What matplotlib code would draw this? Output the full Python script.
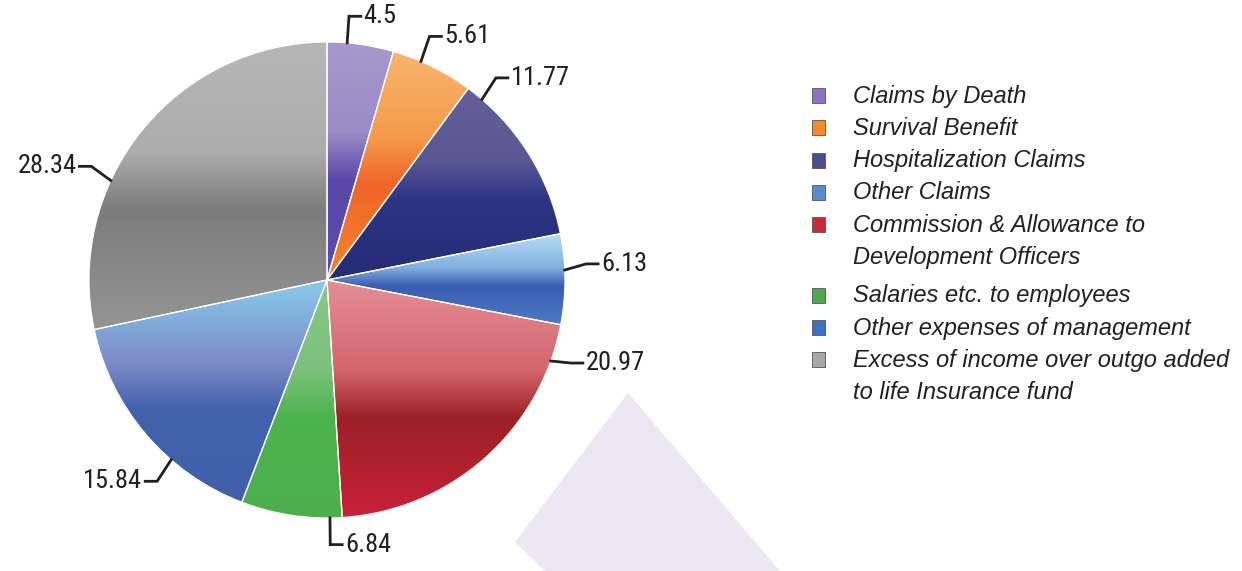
import numpy as np
import matplotlib.pyplot as plt
from matplotlib.colors import LinearSegmentedColormap
from matplotlib.patches import Polygon, Rectangle

# data
values = [4.5, 5.61, 11.77, 6.13, 20.97, 6.84, 15.84, 28.34]
value_text = ["4.5", "5.61", "11.77", "6.13", "20.97", "6.84", "15.84", "28.34"]
labels = [
    "Claims by Death",
    "Survival Benefit",
    "Hospitalization Claims",
    "Other Claims",
    "Commission & Allowance to\nDevelopment Officers",
    "Salaries etc. to employees",
    "Other expenses of management",
    "Excess of income over outgo added\nto life Insurance fund",
]

# glossy colours: top, upper, dark band, bottom
c_top = ["#a898cc", "#f8b56e", "#625f98", "#b8e0f0", "#e48e96", "#88c888", "#88ccec", "#b6b6b6"]
c_upper = ["#9a8cc6", "#f59a4a", "#5a5894", "#80aee0", "#d4656c", "#7cc07c", "#7c8ac6", "#adadad"]
c_dark = ["#5a48a8", "#f0642a", "#2c3484", "#3a5cb0", "#9a2026", "#4cb44c", "#4262ae", "#7c7c7c"]
c_bottom = ["#5c4cae", "#f5862a", "#262b74", "#4c7cc4", "#cb2039", "#4caf4c", "#4060ac", "#959595"]
legend_colors = ["#8c72c4", "#f58a2a", "#4a4f8a", "#5a8ad0", "#c8283a", "#4ea84e", "#3f6fc0", "#a8a8a8"]

# where along each wedge the leader line starts (fraction of the wedge)
leader_frac = [0.3, 0.35, 0.1, 0.4, 0.12, 0.12, 0.35, 0.36]

W, H = 1242, 571


def px(x, y):
    return x / W, 1 - y / H


fig = plt.figure(figsize=(W / 100, H / 100), dpi=100)

# pale watermark in the background
wm = Polygon([px(628, 393), px(515, 542), px(545, 571), px(780, 571)],
             closed=True, transform=fig.transFigure, facecolor="#ece8f3",
             edgecolor="none", zorder=0)
fig.patches.append(wm)

ax = fig.add_axes([89 / W, 53 / H, 476 / W, 476 / H])
ax.patch.set_alpha(0)
wedges, _ = ax.pie(values, startangle=90, counterclock=False, radius=1,
                   wedgeprops=dict(edgecolor="white", linewidth=0.9))

grad = np.linspace(0, 1, 256).reshape(-1, 1)
for i, w in enumerate(wedges):
    t = np.radians(np.linspace(w.theta1, w.theta2, 100))
    xs = np.concatenate([[0], np.cos(t)])
    ys = np.concatenate([[0], np.sin(t)])
    cmap = LinearSegmentedColormap.from_list(
        "g%d" % i, [(0, c_top[i]), (0.38, c_upper[i]), (0.58, c_dark[i]), (1, c_bottom[i])])
    im = ax.imshow(grad, cmap=cmap, extent=[xs.min(), xs.max(), ys.min(), ys.max()],
                   origin="upper", aspect="auto", interpolation="bilinear", zorder=1)
    im.set_clip_path(w)
    w.set_facecolor("none")
    w.set_zorder(2)

ax.set_xlim(-1, 1)
ax.set_ylim(-1, 1)
ax.axis("off")

# leader lines and value labels
num_font = dict(family=["Roboto Condensed", "Liberation Sans Narrow", "Liberation Sans"],
                fontsize=19, color="#231f20")
for i, w in enumerate(wedges):
    ang = np.radians(w.theta2 - leader_frac[i] * (w.theta2 - w.theta1))
    x0, y0 = np.cos(ang), np.sin(ang)
    up = 1 if y0 > -0.5 else -1
    x1 = x0 + 0.09 * x0
    y1 = y0 + 0.09 * y0 + up * 0.022
    side = 1 if (x0 >= -0.05) else -1
    x2 = x1 + side * 0.05
    ax.plot([x0, x1, x2], [y0, y1, y1], color="#231f20", lw=2, clip_on=False,
            solid_joinstyle="miter", zorder=3)
    ax.text(x2 + side * 0.012, y1, value_text[i], ha="left" if side > 0 else "right",
            va="center", clip_on=False, **num_font)

# legend
y = 95
for i, lab in enumerate(labels):
    lines = lab.split("\n")
    mx, my = px(812, y - 7)
    fig.patches.append(Rectangle((mx, my - 15 / H), 13 / W, 15 / H, transform=fig.transFigure,
                                 facecolor=legend_colors[i], edgecolor="#555555", lw=0.6))
    for ln in lines:
        fig.text(*px(853, y + 1), ln, ha="left", va="center", fontsize=17, style="italic",
                 family=["Liberation Sans", "DejaVu Sans"], color="#231f20")
        y += 32.3
    if len(lines) > 1:
        y += 6

fig.savefig("out.png", dpi=100)
